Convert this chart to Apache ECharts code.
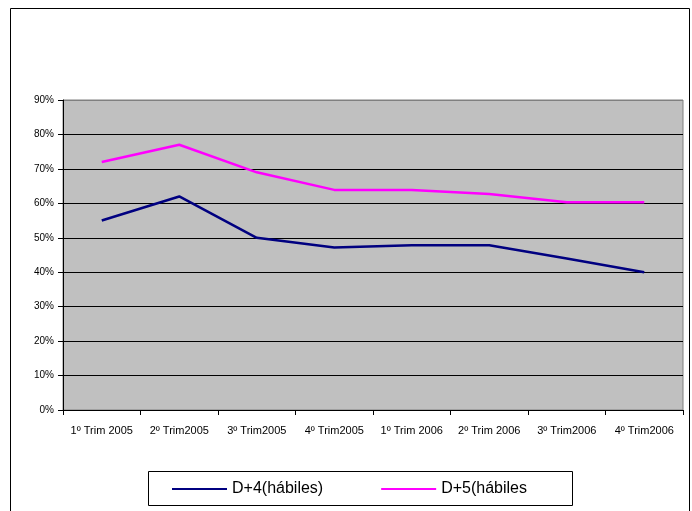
<!DOCTYPE html>
<html lang="es">
<head>
<meta charset="UTF-8">
<title>D+4 / D+5</title>
<script src="https://cdn.jsdelivr.net/npm/echarts@6/dist/echarts.min.js"></script>
<style>
  html, body { margin: 0; padding: 0; background: #fff; }
  #chart { width: 692px; height: 511px; }
</style>
</head>
<body>
<div id="chart"></div>
<script>
// datos
var trimestres = ['1º Trim 2005', '2º Trim2005', '3º Trim2005', '4º Trim2005',
                  '1º Trim 2006', '2º Trim 2006', '3º Trim2006', '4º Trim2006'];
var d4 = [0.55, 0.62, 0.50, 0.472, 0.478, 0.478, 0.44, 0.40];
var d5 = [0.72, 0.77, 0.69, 0.639, 0.639, 0.627, 0.603, 0.603];
var nombres = ['D+4(hábiles)', 'D+5(hábiles'];

var chart = echarts.init(document.getElementById('chart'));

// lineas de la rejilla: negras, la de arriba gris como el borde del area
var gridColors = ['#000', '#000', '#000', '#000', '#000', '#000', '#000', '#000', '#000', '#808080'];

var option = {
    animation: false,
    textStyle: { fontFamily: 'Liberation Sans, Arial, sans-serif' },
    graphic: [
        { type: 'rect', shape: { x: 10.5, y: 8.5, width: 679, height: 520 },
          style: { fill: 'none', stroke: '#000', lineWidth: 1 } },
        { type: 'rect', shape: { x: 148.5, y: 471.5, width: 424, height: 34 },
          style: { fill: '#fff', stroke: '#000', lineWidth: 1 } }
    ],
    grid: {
        left: 63, right: 9, top: 100, bottom: 101,
        show: true, backgroundColor: '#c0c0c0',
        borderColor: '#808080', borderWidth: 1
    },
    legend: {
        left: 167, top: 476,
        icon: 'rect',
        itemWidth: 55, itemHeight: 2, itemGap: 58,
        data: nombres,
        textStyle: { fontSize: 16, color: '#000', fontFamily: 'Liberation Sans, Arial, sans-serif' }
    },
    xAxis: {
        type: 'category',
        data: trimestres,
        boundaryGap: true,
        axisLine: { lineStyle: { color: '#000', width: 1 } },
        axisTick: { show: true, interval: 0, length: 5, lineStyle: { color: '#000' } },
        axisLabel: { interval: 0, fontSize: 11, color: '#000', margin: 15 }
    },
    yAxis: {
        type: 'value',
        min: 0, max: 0.9, interval: 0.1,
        axisLine: { show: true, lineStyle: { color: '#000', width: 1 } },
        axisTick: { show: true, length: 5, lineStyle: { color: '#000' } },
        axisLabel: {
            fontSize: 10, color: '#000', margin: 9,
            formatter: function (v) { return Math.round(v * 100) + '%'; }
        },
        splitLine: { show: true, lineStyle: { color: gridColors, width: 1 } }
    },
    series: [
        {
            name: nombres[0], type: 'line', data: d4,
            symbol: 'none', color: '#000080',
            lineStyle: { color: '#000080', width: 2.5 }
        },
        {
            name: nombres[1], type: 'line', data: d5,
            symbol: 'none', color: '#ff00ff',
            lineStyle: { color: '#ff00ff', width: 2.5 }
        }
    ]
};
chart.setOption(option);
</script>
</body>
</html>
